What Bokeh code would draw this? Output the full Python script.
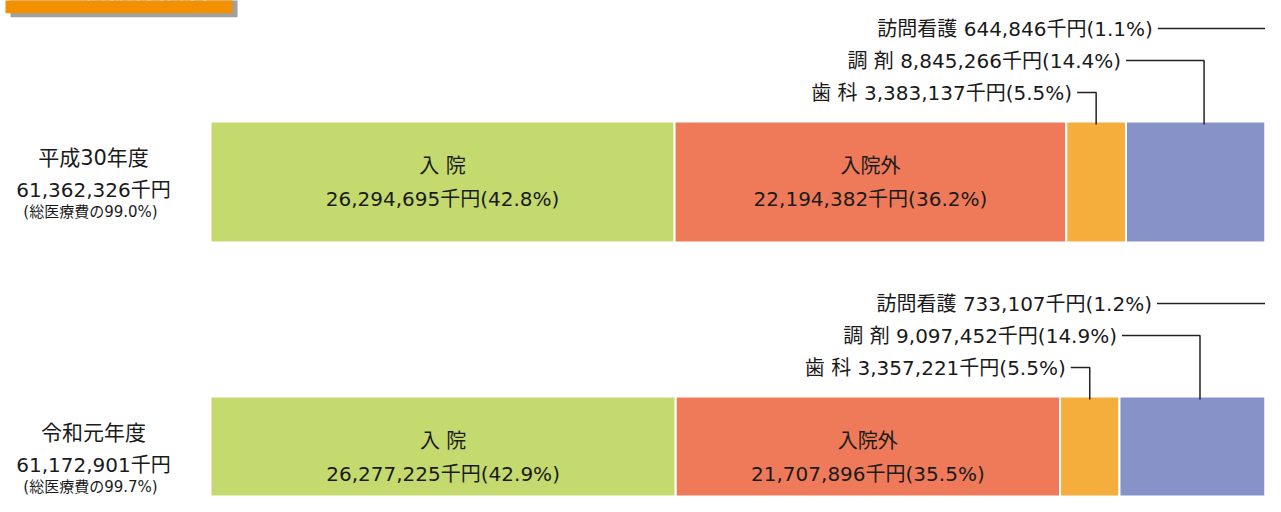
from bokeh.plotting import figure
from bokeh.models import Range1d, ColumnDataSource
from bokeh.core.properties import value
from bokeh.embed import file_html
from bokeh.resources import INLINE

# ---------------- data ----------------
header = "一般被保険者"
years = ["平成30年度", "令和元年度"]
totals = [61362326, 61172901]
total_share = ["99.0", "99.7"]
categories = ["入院", "入院外", "歯科", "調剤", "訪問看護"]
display_names = ["入 院", "入院外", "歯 科", "調 剤", "訪問看護"]
inpatient = [26294695, 26277225]
outpatient = [22194382, 21707896]
dental = [3383137, 3357221]
pharmacy = [8845266, 9097452]
visiting = [644846, 733107]
inpatient_pct = ["42.8", "42.9"]
outpatient_pct = ["36.2", "35.5"]
dental_pct = ["5.5", "5.5"]
pharmacy_pct = ["14.4", "14.9"]
visiting_pct = ["1.1", "1.2"]

series = [inpatient, outpatient, dental, pharmacy, visiting]
series_pct = [inpatient_pct, outpatient_pct, dental_pct, pharmacy_pct, visiting_pct]
colors = ["#C4DA6E", "#EE7A5A", "#F5AD3B", "#8792C8", "#F9D45A"]

# ---------------- layout ----------------
S = 10.83      # px per percent
ORIGIN = 210   # x pixel of 0 %
W, H = 1265, 496
FONT = "'DejaVu Sans', 'Noto Sans CJK JP'"
CJK = "Noto Sans CJK JP"
TXT = "#1A1A1A"
FS = "20px"


def xd(px):
    return (px - ORIGIN) / S


def pxw(px):
    return px / S


p = figure(width=W, height=H, output_backend="svg", toolbar_location=None,
           x_range=Range1d(xd(0), xd(W)), y_range=Range1d(H, 0),
           x_axis_location=None, y_axis_location=None, min_border=0)
p.grid.visible = False
p.outline_line_color = None
p.background_fill_color = "white"
p.border_fill_color = "white"

# header tab (cut off at the top, as in the source image)
p.quad(left=[xd(10)], right=[xd(237)], bottom=[16.7], top=[-10], fill_color="#A0A0A0", line_color=None)
p.quad(left=[xd(5)], right=[xd(232)], bottom=[12.7], top=[-10], fill_color="#F29000", line_color=None)
p.text(x=[xd(132)], y=[4], text=[header], text_align="center", text_baseline="bottom",
       text_font=value(CJK), text_font_size="26px", text_font_style="bold", text_color="white")

bar_tops = [122, 397]
BAR_H = 119

for i, year in enumerate(years):
    top = bar_tops[i]
    total = totals[i]
    shares = [s[i] / total * 100 for s in series]
    lefts, rights = [], []
    acc = 0.0
    for sh in shares:
        lefts.append(acc)
        acc += sh
        rights.append(acc)
    mids = [(l + r) / 2 for l, r in zip(lefts, rights)]
    src = ColumnDataSource(dict(left=lefts, right=rights, y=[top + BAR_H / 2] * 5, color=colors))
    p.hbar(y="y", left="left", right="right", height=BAR_H + 2, fill_color="color",
           line_color="white", line_width=2, source=src)

    # labels inside the bars (入院, 入院外)
    for k in (0, 1):
        p.text(x=[mids[k]], y=[top + 43], text=[display_names[k]], text_align="center",
               text_baseline="middle", text_font=value(FONT), text_font_size=FS, text_color=TXT)
        p.text(x=[mids[k]], y=[top + 76], text=[f"{series[k][i]:,}千円({series_pct[k][i]}%)"],
               text_align="center", text_baseline="middle", text_font=value(FONT),
               text_font_size=FS, text_color=TXT)

    # callout labels (歯科, 調剤, 訪問看護)
    callouts = [(2, 30, 24), (3, 62, 83), (4, 94, 135)]
    for k, dy, dx in callouts:
        ty = top - dy
        tx = mids[k] - pxw(dx)
        p.text(x=[tx], y=[ty], text=[f"{display_names[k]} {series[k][i]:,}千円({series_pct[k][i]}%)"],
               text_align="right", text_baseline="middle", text_font=value(FONT),
               text_font_size=FS, text_color=TXT)
        p.line(x=[tx + pxw(5), mids[k], mids[k]], y=[ty, ty, top + 2],
               line_color="#222222", line_width=1.5)

    # left side labels
    p.text(x=[xd(93)], y=[top + 35], text=[year], text_align="center", text_baseline="middle",
           text_font=value(FONT), text_font_size="21px", text_color=TXT)
    p.text(x=[xd(93)], y=[top + 67], text=[f"{total:,}千円"], text_align="center",
           text_baseline="middle", text_font=value(FONT), text_font_size="20px", text_color=TXT)
    p.text(x=[xd(90)], y=[top + 89], text=[f"(総医療費の{total_share[i]}%)"], text_align="center",
           text_baseline="middle", text_font=value(FONT), text_font_size="15px", text_color=TXT)

open("out.html", "w").write(file_html(p, INLINE))
